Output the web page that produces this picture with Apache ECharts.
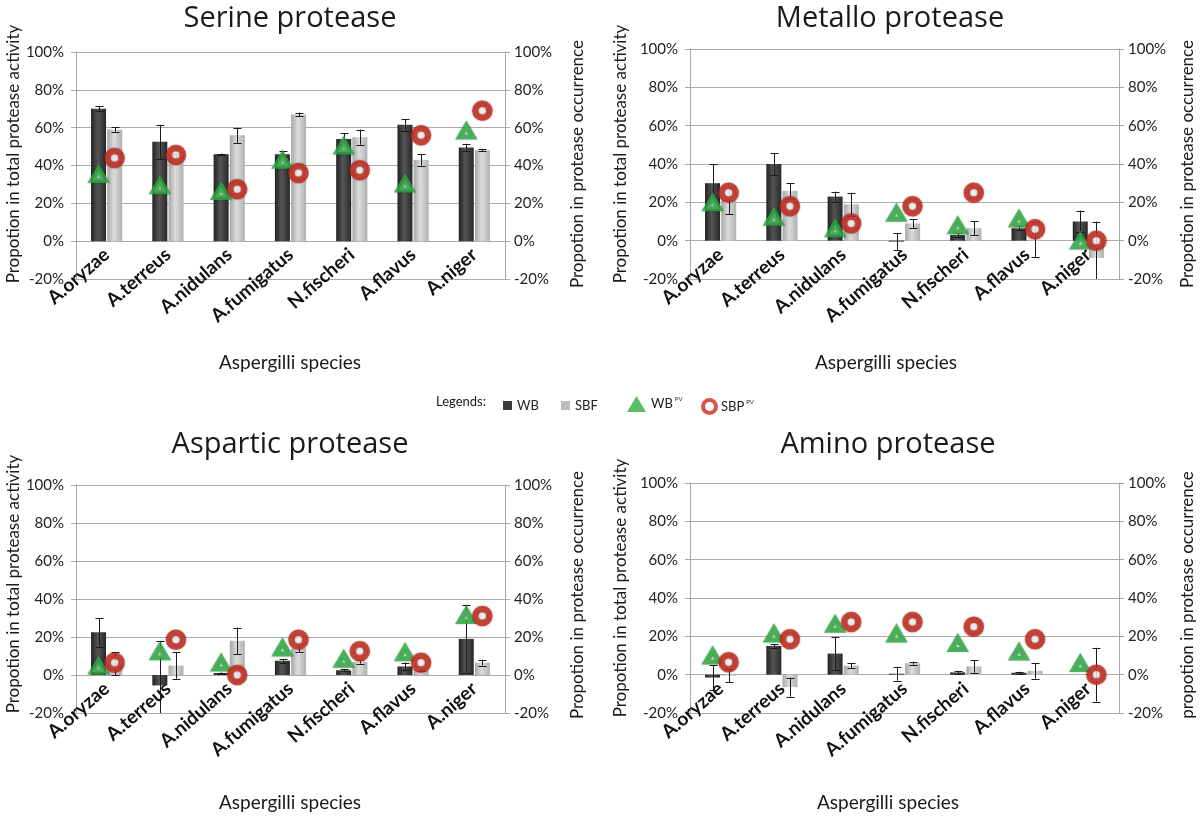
<!DOCTYPE html>
<html><head><meta charset="utf-8">
<script src="https://cdn.jsdelivr.net/npm/echarts/dist/echarts.min.js"></script>
<style>html,body{margin:0;padding:0;background:#fff}#c{width:1200px;height:818px}</style>
</head><body><div id="c"></div>
<script>
const categories = ['A.oryzae','A.terreus','A.nidulans','A.fumigatus','N.fischeri','A.flavus','A.niger'];
const panelTitles = ['Serine protease','Metallo protease','Aspartic protease','Amino protease'];
const yMin = -20, yMax = 100, yStep = 20;

// Serine protease
const serineWB      = [70, 52.5, 46, 46, 54, 61.5, 49.5];
const serineWBErr   = [1.3, 9, 0.3, 1.5, 3, 3, 2];
const serineSBF     = [59, 45, 56, 67, 55, 43, 48];
const serineSBFErr  = [1.2, 1, 4, 1, 4, 3, 0.5];
const serineWBPV    = [35, 29, 26, 42.5, 50, 30, 58];
const serineSBPPV   = [44, 45.5, 27.5, 36, 37.5, 56, 69];

// Metallo protease
const metalloWB     = [30, 40, 23, -0.5, 3, 6.5, 10];
const metalloWBErr  = [10, 5.7, 2.6, 4.5, 1, 1, 5.7];
const metalloSBF    = [21, 26, 19, 9, 6.5, 0.5, -9];
const metalloSBFErr = [7, 4, 6, 2.3, 3.7, 9, 19];
const metalloWBPV   = [19.5, 12, 6, 14, 7.5, 11, -0.5];
const metalloSBPPV  = [25, 18, 9, 18, 25, 6, 0];

// Aspartic protease
const asparticWB     = [22.5, -5.5, 1, 7.5, 2.5, 4.5, 19];
const asparticWBErr  = [7.5, 23.5, 0.3, 1, 0.5, 2, 17.7];
const asparticSBF    = [6, 5, 18, 14, 7, 3, 6.5];
const asparticSBFErr = [6, 7, 7, 2, 1, 1, 1.5];
const asparticWBPV   = [4.5, 12, 6, 14, 8, 11.5, 31];
const asparticSBPPV  = [6.5, 18.5, 0, 18.5, 12.5, 6.5, 31];

// Amino protease
const aminoWB     = [-1.5, 15, 11, 0.5, 1.2, 1, 0];
const aminoWBErr  = [6.5, 1, 8.4, 3.6, 0.8, 0.5, 0];
const aminoSBF    = [-0.5, -6.5, 4.7, 6, 4.3, 2, 0];
const aminoSBFErr = [3.5, 5, 1.4, 0.8, 3.3, 4, 14];
const aminoWBPV   = [9.5, 21, 26, 21, 16, 11.5, 5.5];
const aminoSBPPV  = [6.5, 18.5, 27.5, 27.5, 25, 18.5, 0];

const panels = [
  {wb: serineWB, wbErr: serineWBErr, sbf: serineSBF, sbfErr: serineSBFErr, wbpv: serineWBPV, sbppv: serineSBPPV},
  {wb: metalloWB, wbErr: metalloWBErr, sbf: metalloSBF, sbfErr: metalloSBFErr, wbpv: metalloWBPV, sbppv: metalloSBPPV},
  {wb: asparticWB, wbErr: asparticWBErr, sbf: asparticSBF, sbfErr: asparticSBFErr, wbpv: asparticWBPV, sbppv: asparticSBPPV},
  {wb: aminoWB, wbErr: aminoWBErr, sbf: aminoSBF, sbfErr: aminoSBFErr, wbpv: aminoWBPV, sbppv: aminoSBPPV}
];

const FONT = 'Lato';
const grids = [
  {left: 76, top: 52, width: 429, height: 227},
  {left: 690, top: 49, width: 429, height: 230},
  {left: 76, top: 485, width: 429, height: 228},
  {left: 690, top: 483, width: 429, height: 230}
];
const OFF = 8;

const wbColor = {type:'linear', x:0, y:0, x2:1, y2:0, colorStops:[
  {offset:0, color:'#222222'},{offset:0.45, color:'#555555'},{offset:1, color:'#282828'}]};
const sbfColor = {type:'linear', x:0, y:0, x2:1, y2:0, colorStops:[
  {offset:0, color:'#a6a6a6'},{offset:0.45, color:'#dcdcdc'},{offset:1, color:'#b0b0b0'}]};
const greenC = '#2fae43', redC = '#cc2a1e';

function renderErr(params, api) {
  const i = api.value(0), v = api.value(1), e = api.value(2), s = api.value(3);
  const cs = params.coordSys;
  const pTop = api.coord([i, v + e]);
  const pBot = api.coord([i, v - e]);
  const x = Math.round(pTop[0] + s * OFF) + 0.5;
  const ymin = cs.y, ymax = cs.y + cs.height;
  const y1 = Math.max(pTop[1], ymin), y2 = Math.min(pBot[1], ymax);
  const st = {stroke: '#1a1a1a', lineWidth: 1};
  const ch = [{type:'line', shape:{x1:x, y1:y1, x2:x, y2:y2}, style: st}];
  if (pTop[1] >= ymin) ch.push({type:'line', shape:{x1:x-4, y1:Math.round(pTop[1])+0.5, x2:x+4, y2:Math.round(pTop[1])+0.5}, style: st});
  if (pBot[1] <= ymax) ch.push({type:'line', shape:{x1:x-4, y1:Math.round(pBot[1])+0.5, x2:x+4, y2:Math.round(pBot[1])+0.5}, style: st});
  return {type:'group', children: ch};
}

const xAxis = [], yAxis = [], series = [];
panels.forEach((p, g) => {
  xAxis.push({
    type:'category', gridIndex:g, data: categories,
    axisLine:{show:false}, axisTick:{show:false},
    axisLabel:{interval:0, rotate:41, margin:-27, fontFamily:FONT, fontWeight:'bold', fontSize:19, color:'#111'}
  });
  const yBase = {
    type:'value', gridIndex:g, min:yMin, max:yMax, interval:yStep,
    axisLine:{show:true, lineStyle:{color:'#a8a8a8'}},
    axisTick:{show:true, length:5, lineStyle:{color:'#a8a8a8'}},
    axisLabel:{formatter:'{value}%', fontFamily:FONT, fontSize:15, color:'#222'}
  };
  yAxis.push(Object.assign({}, yBase, {position:'left', axisLabel:Object.assign({}, yBase.axisLabel, {margin:12}),
    splitLine:{show:true, lineStyle:{color:'#ababab'}}}));
  yAxis.push(Object.assign({}, yBase, {position:'right', axisLabel:Object.assign({}, yBase.axisLabel, {margin:9}),
    splitLine:{show:false}}));
  series.push({name:'WB', type:'bar', xAxisIndex:g, yAxisIndex:2*g, data:p.wb, barWidth:15, barGap:'8%',
    itemStyle:{color:wbColor}, z:2});
  series.push({name:'SBF', type:'bar', xAxisIndex:g, yAxisIndex:2*g, data:p.sbf, barWidth:15, barGap:'8%',
    itemStyle:{color:sbfColor}, z:2});
  const errData = [];
  p.wb.forEach((v, i) => { if (p.wbErr[i] > 0) errData.push([i, v, p.wbErr[i], -1]); });
  p.sbf.forEach((v, i) => { if (p.sbfErr[i] > 0) errData.push([i, v, p.sbfErr[i], 1]); });
  series.push({name:'err'+g, type:'custom', xAxisIndex:g, yAxisIndex:2*g, data:errData,
    encode:{x:0, y:1}, renderItem:renderErr, z:3, silent:true});
  series.push({name:'WB PV', type:'scatter', xAxisIndex:g, yAxisIndex:2*g+1, data:p.wbpv,
    symbol:'triangle', symbolSize:[13,11], symbolOffset:[-OFF,0],
    itemStyle:{color:'#ffffff', borderColor:greenC, borderWidth:5.4, borderJoin:'miter', borderMiterLimit:10,
      shadowBlur:2, shadowColor:'rgba(0,0,0,0.35)'}, z:4});
  series.push({name:'SBP PV', type:'scatter', xAxisIndex:g, yAxisIndex:2*g+1, data:p.sbppv,
    symbol:'circle', symbolSize:14, symbolOffset:[OFF,0],
    itemStyle:{color:'#ffffff', borderColor:redC, borderWidth:6.5, shadowBlur:2, shadowColor:'rgba(0,0,0,0.45)'}, z:5});
});

const txt = (x, y, text, size, rot, font) => ({
  type:'text', x:x, y:y, rotation: rot || 0,
  style:{text:text, font: size + 'px ' + (font || FONT), fill:'#1a1a1a', textAlign:'center', textVerticalAlign:'middle'}
});
const TF = '"Open Sans"';
const graphic = [
  txt(290, 19, panelTitles[0], 29, 0, TF), txt(890, 19, panelTitles[1], 29, 0, TF),
  txt(290, 445, panelTitles[2], 29, 0, TF), txt(888, 445, panelTitles[3], 29, 0, TF),
  txt(290, 363, 'Aspergilli species', 19), txt(886, 363, 'Aspergilli species', 19),
  txt(290, 803, 'Aspergilli species', 19), txt(888, 803, 'Aspergilli species', 19),
  txt(14, 154, 'Propotion in total protease activity', 17, Math.PI/2),
  txt(621, 154, 'Propotion in total protease activity', 17, Math.PI/2),
  txt(14, 584, 'Propotion in total protease activity', 17, Math.PI/2),
  txt(621, 588, 'Propotion in total protease activity', 17, Math.PI/2),
  txt(578, 164, 'Propotion in protease occurrence', 17, Math.PI/2),
  txt(1188, 164, 'Propotion in protease occurrence', 17, Math.PI/2),
  txt(578, 595, 'Propotion in protease occurrence', 17, Math.PI/2),
  txt(1188, 595, 'propotion in protease occurrence', 17, Math.PI/2),
  txt(461, 402, 'Legends:', 13)
];

const legText = {fontFamily:FONT, fontSize:13, color:'#222',
  rich:{s:{fontFamily:FONT, fontSize:6, color:'#222', padding:[0,0,9,2]}}};
const legFmt = n => n === 'WB PV' ? 'WB{s|PV}' : (n === 'SBP PV' ? 'SBP{s|PV}' : n);
const legend = [
  {data:['WB'], left:498, top:394, itemWidth:9, itemHeight:9, icon:'rect', textStyle:legText, formatter:legFmt, selectedMode:false,
    itemStyle:{color:'#3a3a3a'}},
  {data:['SBF'], left:556, top:394, itemWidth:9, itemHeight:9, icon:'rect', textStyle:legText, formatter:legFmt, selectedMode:false,
    itemStyle:{color:'#bdbdbd'}},
  {data:['WB PV'], left:622, top:391, itemWidth:19, itemHeight:16, icon:'triangle', textStyle:legText, formatter:legFmt, selectedMode:false,
    itemStyle:{color:greenC, borderWidth:0}},
  {data:['SBP PV'], left:696, top:393, itemWidth:13, itemHeight:13, icon:'circle', textStyle:legText, formatter:legFmt, selectedMode:false,
    itemStyle:{color:'#ffffff', borderColor:redC, borderWidth:4}}
];

const chart = echarts.init(document.getElementById('c'), null, {renderer:'canvas'});
chart.setOption({
  backgroundColor:'#ffffff',
  animation:false,
  grid: grids.map(g => Object.assign({containLabel:false, outerBoundsMode:'none'}, g)),
  xAxis, yAxis, series, legend, graphic
});
</script></body></html>
